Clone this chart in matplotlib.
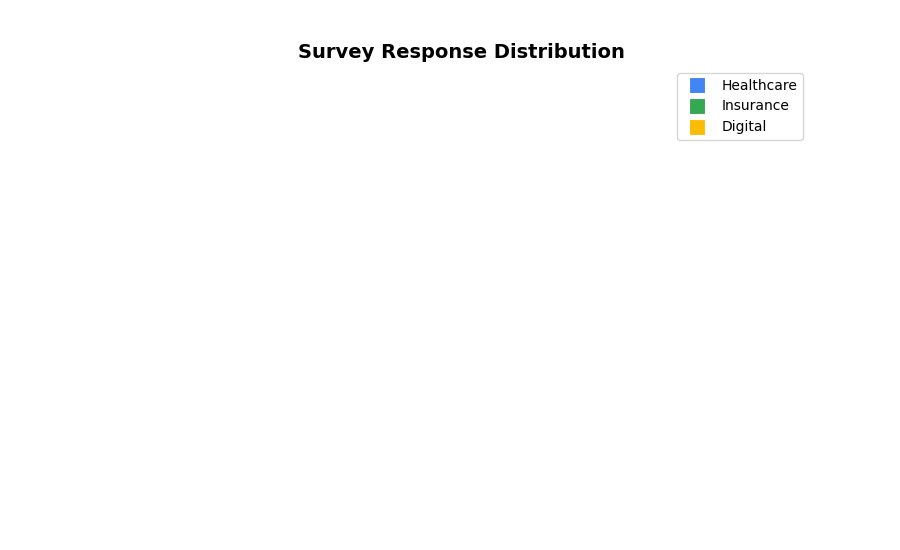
import matplotlib
matplotlib.use("Agg")
import matplotlib.pyplot as plt
from matplotlib.lines import Line2D

# 시리즈 (그림에 표시된 데이터 없음 - 범례만 있음)
series = ["Healthcare", "Insurance", "Digital"]
colors = ["#4285F4", "#34A853", "#FBBC05"]

fig, ax = plt.subplots(figsize=(9, 5.5), dpi=100)
ax.axis("off")
ax.set_title("Survey Response Distribution", fontsize=14, fontweight="bold")

handles = [Line2D([], [], linestyle="none", marker="s", markersize=11,
                  markerfacecolor=c, markeredgecolor="white", markeredgewidth=0.8)
           for c in colors]
ax.legend(handles, series, loc="upper right", fontsize=10)

fig.savefig("out.png", dpi=100)
